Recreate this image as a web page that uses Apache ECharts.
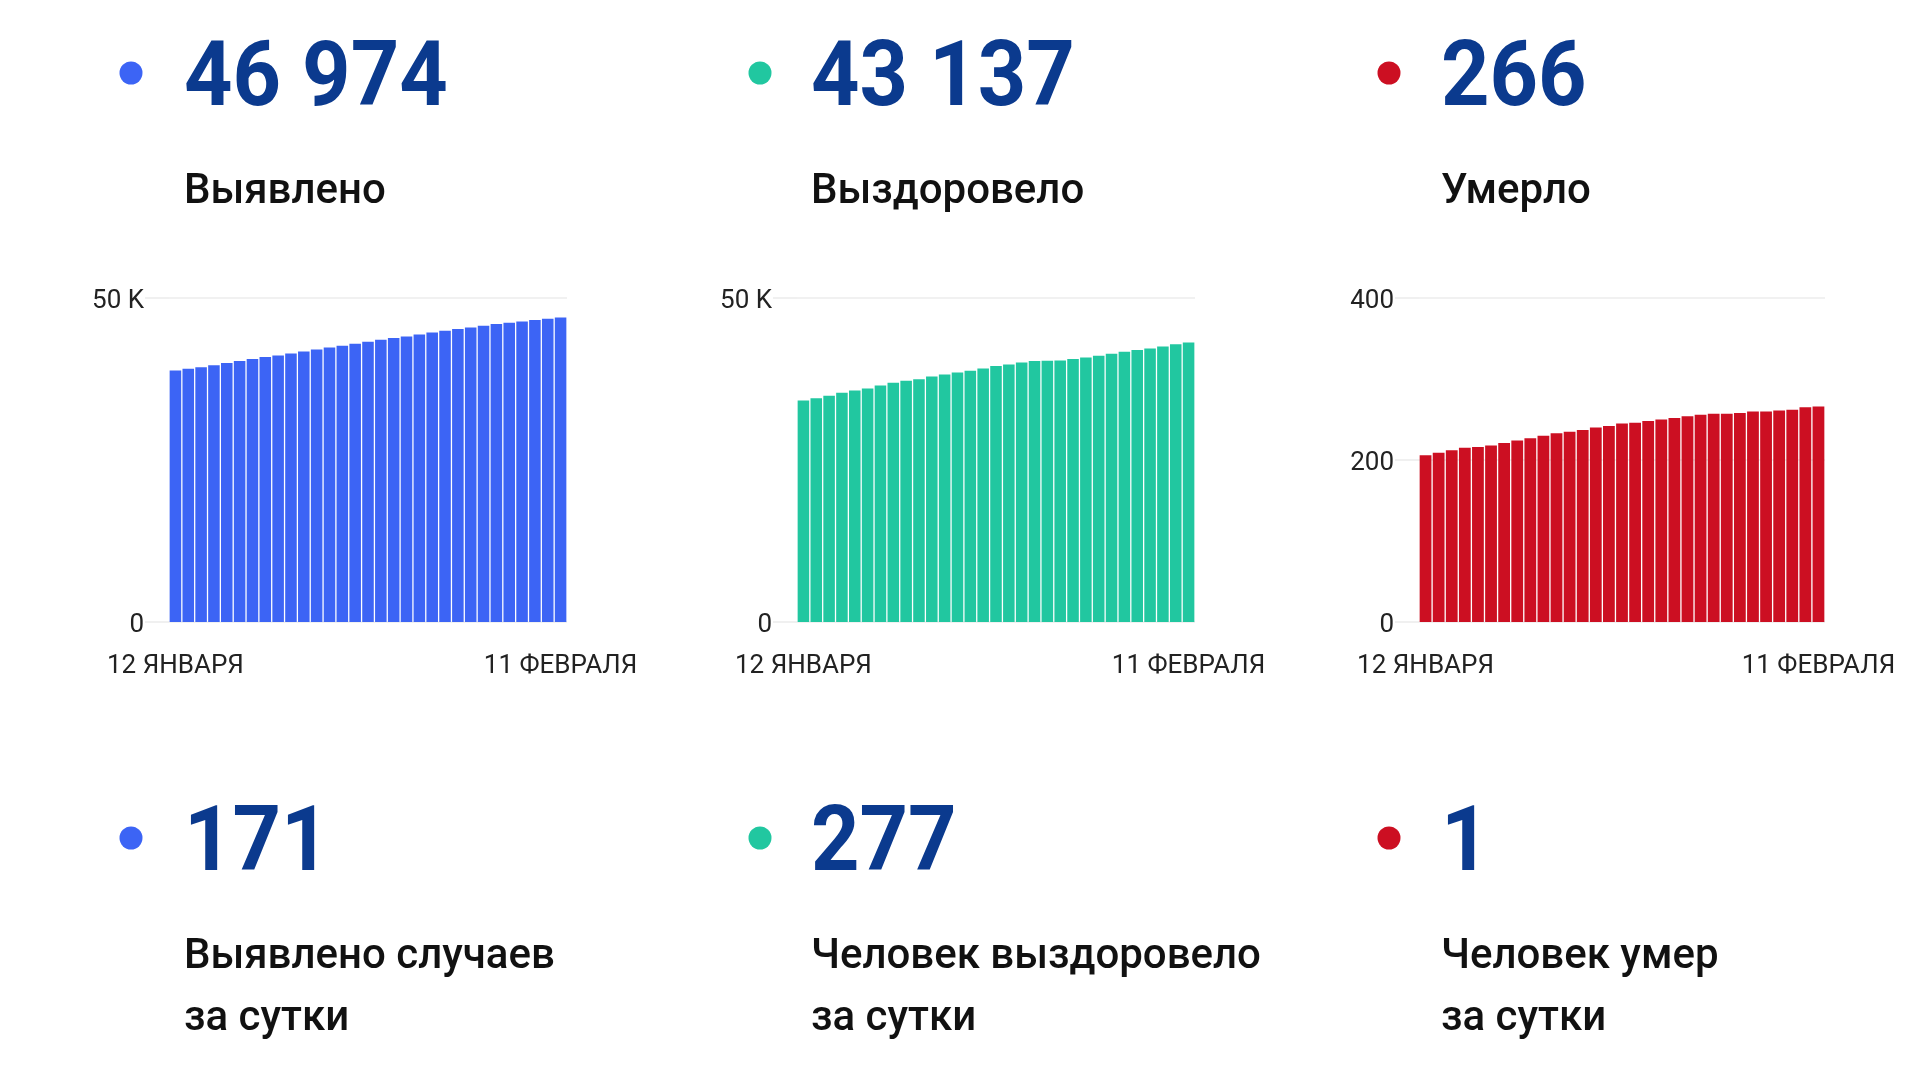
<!DOCTYPE html>
<html>
<head>
<meta charset="utf-8">
<script src="https://cdn.jsdelivr.net/npm/echarts@6/dist/echarts.min.js"></script>
<style>
html,body{margin:0;padding:0;background:#fff;}
#chart{width:1920px;height:1080px;}
</style>
</head>
<body>
<div id="chart"></div>
<script>
// ---- Data ----
const dates = ['12 ЯНВАРЯ','13 ЯНВАРЯ','14 ЯНВАРЯ','15 ЯНВАРЯ','16 ЯНВАРЯ','17 ЯНВАРЯ','18 ЯНВАРЯ','19 ЯНВАРЯ','20 ЯНВАРЯ','21 ЯНВАРЯ',
  '22 ЯНВАРЯ','23 ЯНВАРЯ','24 ЯНВАРЯ','25 ЯНВАРЯ','26 ЯНВАРЯ','27 ЯНВАРЯ','28 ЯНВАРЯ','29 ЯНВАРЯ','30 ЯНВАРЯ','31 ЯНВАРЯ',
  '1 ФЕВРАЛЯ','2 ФЕВРАЛЯ','3 ФЕВРАЛЯ','4 ФЕВРАЛЯ','5 ФЕВРАЛЯ','6 ФЕВРАЛЯ','7 ФЕВРАЛЯ','8 ФЕВРАЛЯ','9 ФЕВРАЛЯ','10 ФЕВРАЛЯ','11 ФЕВРАЛЯ'];
const casesTotal = [38810, 39070, 39330, 39640, 39950, 40260, 40570, 40880, 41130, 41440,
  41750, 42060, 42370, 42630, 42940, 43250, 43560, 43810, 44070, 44380,
  44690, 44950, 45210, 45460, 45720, 45980, 46190, 46390, 46600, 46803, 46974];
const recoveredTotal = [34180, 34540, 34900, 35360, 35720, 36030, 36500, 36910, 37220, 37470,
  37890, 38200, 38510, 38760, 39120, 39490, 39740, 40050, 40260, 40310,
  40360, 40570, 40830, 41080, 41390, 41700, 41960, 42220, 42520, 42860, 43137];
const deathsTotal = [206, 209, 212, 215, 216, 218, 221, 224, 227, 230,
  233, 235, 237, 240, 242, 245, 246, 248, 250, 252,
  254, 256, 257, 257, 258, 260, 260, 261, 262, 265, 266];
const headlineNumbers = ['46 974', '43 137', '266'];
const headlineLabels = ['Выявлено', 'Выздоровело', 'Умерло'];
const dailyNumbers = ['171', '277', '1'];
const dailyLabels = [['Выявлено случаев', 'за сутки'], ['Человек выздоровело', 'за сутки'], ['Человек умер', 'за сутки']];
const yTicksK = [0, 50000];
const yTicksDeaths = [0, 200, 400];

// ---- Style ----
const colors = ['#3c64f5', '#21c7a0', '#cc0f22'];
const numColor = '#0b3a8e';
const gridColor = '#ececec';
const colX = [184, 811, 1441];
const dotX = [131, 760, 1389];
const FONT = 'Roboto, "Noto Sans", sans-serif';

const grids = [
  {left: 169, top: 298, width: 398, height: 324},
  {left: 797, top: 298, width: 398, height: 324},
  {left: 1419, top: 298, width: 406, height: 324}
];

function yAxisFor(i, ticks) {
  const max = ticks[ticks.length - 1];
  return {
    type: 'value', gridIndex: i, min: 0, max: max, interval: ticks[1] - ticks[0],
    axisLine: {show: false},
    axisTick: {show: true, inside: false, length: 24, lineStyle: {color: gridColor, width: 1.5}},
    splitLine: {show: true, lineStyle: {color: gridColor, width: 1.5}},
    axisLabel: {
      margin: 25, color: '#222', fontFamily: FONT, fontSize: 26,
      formatter: function (v) { return '{v|' + (v >= 1000 ? (v / 1000) + ' K' : String(v)) + '}'; },
      rich: {v: {fontSize: 26, fontFamily: FONT, color: '#222', padding: [6, 0, 0, 0]}}
    }
  };
}
function xAxisFor(i) {
  return {
    type: 'category', gridIndex: i, data: dates,
    axisLine: {show: false}, axisTick: {show: false},
    axisLabel: {
      margin: 31, fontSize: 26, color: '#222', fontFamily: FONT,
      interval: function (idx) { return idx === 0 || idx === dates.length - 1; }
    }
  };
}

function numText(x, y, txt) {
  return {type: 'text', x: x, y: y, scaleX: 0.94,
    style: {x: 0, y: 0, text: txt, font: 'bold 90px ' + FONT, fill: numColor, verticalAlign: 'middle', align: 'left'}};
}
function labelText(x, y, txt) {
  return {type: 'text', x: x, y: y,
    style: {x: 0, y: 0, text: txt, font: '500 42px ' + FONT, fill: '#111', verticalAlign: 'middle', align: 'left'}};
}

const graphics = [];
for (let i = 0; i < 3; i++) {
  // top row
  graphics.push({type: 'circle', shape: {cx: dotX[i], cy: 73, r: 11.5}, style: {fill: colors[i]}});
  graphics.push(numText(colX[i], 82, headlineNumbers[i]));
  graphics.push(labelText(colX[i], 192, headlineLabels[i]));
  // bottom row
  graphics.push({type: 'circle', shape: {cx: dotX[i], cy: 838, r: 11.5}, style: {fill: colors[i]}});
  graphics.push(numText(colX[i], 847, dailyNumbers[i]));
  graphics.push(labelText(colX[i], 957, dailyLabels[i][0]));
  graphics.push(labelText(colX[i], 1019, dailyLabels[i][1]));
}

const chart = echarts.init(document.getElementById('chart'), null, {renderer: 'canvas'});
chart.setOption({
  animation: false,
  backgroundColor: '#ffffff',
  grid: grids.map(g => Object.assign({containLabel: false, outerBoundsMode: 'none'}, g)),
  xAxis: [xAxisFor(0), xAxisFor(1), xAxisFor(2)],
  yAxis: [yAxisFor(0, yTicksK), yAxisFor(1, yTicksK), yAxisFor(2, yTicksDeaths)],
  series: [
    {type: 'bar', xAxisIndex: 0, yAxisIndex: 0, data: casesTotal, barCategoryGap: '10%', itemStyle: {color: colors[0]}, silent: true},
    {type: 'bar', xAxisIndex: 1, yAxisIndex: 1, data: recoveredTotal, barCategoryGap: '10%', itemStyle: {color: colors[1]}, silent: true},
    {type: 'bar', xAxisIndex: 2, yAxisIndex: 2, data: deathsTotal, barCategoryGap: '10%', itemStyle: {color: colors[2]}, silent: true}
  ],
  graphic: graphics
});
</script>
</body>
</html>
